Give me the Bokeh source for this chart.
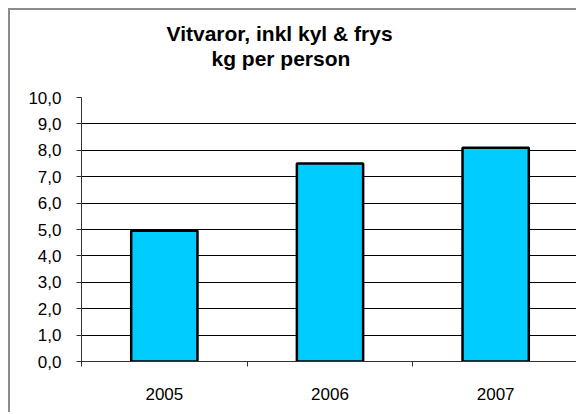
from bokeh.plotting import figure
from bokeh.models import Range1d, FixedTicker, Title
from bokeh.embed import file_html
from bokeh.resources import INLINE

years = ["2005", "2006", "2007"]
values = [4.95, 7.5, 8.1]
y_ticks = [0, 1, 2, 3, 4, 5, 6, 7, 8, 9, 10]
title_lines = ["Vitvaror, inkl kyl & frys", "kg per person"]

FONT = "Liberation Sans"
OFF = 10                      # 8px outer gap + 2px chart-area border
W, H = 578 - OFF, 414 - OFF
ML, MT = 81 - OFF, 97 - OFF
MB = H - (361 - OFF)

xs = [i + 0.5 for i in range(len(years))]

p = figure(width=W, height=H, output_backend="svg", toolbar_location=None,
           x_range=Range1d(0, len(years)), y_range=Range1d(0, 10),
           min_border_left=ML, min_border_right=0, min_border_top=MT, min_border_bottom=MB)
p.styles = {"margin-left": "8px", "margin-top": "8px",
            "border-left": "2px solid #8c8c8c", "border-top": "2px solid #8c8c8c"}
p.outline_line_color = None
p.background_fill_color = "white"
p.border_fill_color = "white"

p.vbar(x=xs, top=values, width=0.4, bottom=0, fill_color="#00CCFF",
       line_color="black", line_width=2.5)

# axes
xa = p.xaxis[0]
xa.ticker = FixedTicker(ticks=xs, minor_ticks=list(range(len(years) + 1)))
xa.major_label_overrides = {x: y for x, y in zip(xs, years)}
xa.major_tick_out = 0
xa.major_tick_in = 0
xa.minor_tick_out = 5
xa.minor_tick_in = 0
xa.minor_tick_line_color = "#333333"
xa.axis_line_color = "#333333"
xa.major_label_text_font = FONT
xa.major_label_text_font_size = "17px"
xa.major_label_text_color = "black"
xa.major_label_standoff = 21

ya = p.yaxis[0]
ya.ticker = FixedTicker(ticks=y_ticks, minor_ticks=[])
ya.major_label_overrides = {t: f"{t:.1f}".replace(".", ",") for t in y_ticks}
ya.major_tick_out = 5
ya.major_tick_in = 0
ya.major_tick_line_color = "#333333"
ya.axis_line_color = "#333333"
ya.major_label_text_font = FONT
ya.major_label_text_font_size = "17px"
ya.major_label_text_color = "black"
ya.major_label_standoff = 15

p.xgrid.grid_line_color = None
p.ygrid.ticker = FixedTicker(ticks=y_ticks)
p.ygrid.grid_line_color = "black"
p.ygrid.grid_line_width = 1

# spacer between the plot frame and the title block
p.add_layout(Title(text="\u00a0", text_font_size="1px", standoff=25), "above")

# two-line title, each line left-aligned with an offset so both are centred at x~280
offsets = [85, 130]
for line, off in zip(reversed(title_lines), reversed(offsets)):
    p.add_layout(Title(text=line, align="left", offset=off, standoff=0,
                       text_font=FONT, text_font_size="21px", text_font_style="bold",
                       text_color="black"), "above")

open("out.html", "w").write(file_html(p, INLINE))
